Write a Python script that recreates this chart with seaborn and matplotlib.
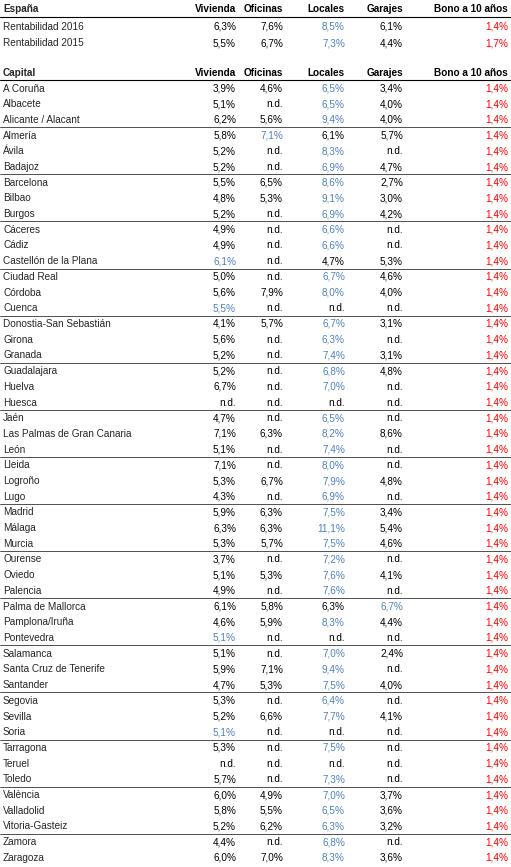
import matplotlib
matplotlib.use("Agg")
import matplotlib.pyplot as plt
import seaborn as sns

sns.set_theme(style="white")
plt.rcParams['font.family'] = ['Liberation Sans', 'DejaVu Sans']

columnas = ["Vivienda", "Oficinas", "Locales", "Garajes", "Bono a 10 años"]

espana = ["Rentabilidad 2016", "Rentabilidad 2015"]
espana_valores = [
    ["6,3%", "7,6%", "8,5%", "6,1%", "1,4%"],
    ["5,5%", "6,7%", "7,3%", "4,4%", "1,7%"],
]

capitales = [
    "A Coruña", "Albacete", "Alicante / Alacant", "Almería", "Ávila", "Badajoz",
    "Barcelona", "Bilbao", "Burgos", "Cáceres", "Cádiz", "Castellón de la Plana",
    "Ciudad Real", "Córdoba", "Cuenca", "Donostia-San Sebastián", "Girona", "Granada",
    "Guadalajara", "Huelva", "Huesca", "Jaén", "Las Palmas de Gran Canaria", "León",
    "Lleida", "Logroño", "Lugo", "Madrid", "Málaga", "Murcia",
    "Ourense", "Oviedo", "Palencia", "Palma de Mallorca", "Pamplona/Iruña", "Pontevedra",
    "Salamanca", "Santa Cruz de Tenerife", "Santander", "Segovia", "Sevilla", "Soria",
    "Tarragona", "Teruel", "Toledo", "València", "Valladolid", "Vitoria-Gasteiz",
    "Zamora", "Zaragoza",
]
vivienda = ["3,9%", "5,1%", "6,2%", "5,8%", "5,2%", "5,2%", "5,5%", "4,8%", "5,2%", "4,9%",
            "4,9%", "6,1%", "5,0%", "5,6%", "5,5%", "4,1%", "5,6%", "5,2%", "5,2%", "6,7%",
            "n.d.", "4,7%", "7,1%", "5,1%", "7,1%", "5,3%", "4,3%", "5,9%", "6,3%", "5,3%",
            "3,7%", "5,1%", "4,9%", "6,1%", "4,6%", "5,1%", "5,1%", "5,9%", "4,7%", "5,3%",
            "5,2%", "5,1%", "5,3%", "n.d.", "5,7%", "6,0%", "5,8%", "5,2%", "4,4%", "6,0%"]
oficinas = ["4,6%", "n.d.", "5,6%", "7,1%", "n.d.", "n.d.", "6,5%", "5,3%", "n.d.", "n.d.",
            "n.d.", "n.d.", "n.d.", "7,9%", "n.d.", "5,7%", "n.d.", "n.d.", "n.d.", "n.d.",
            "n.d.", "n.d.", "6,3%", "n.d.", "n.d.", "6,7%", "n.d.", "6,3%", "6,3%", "5,7%",
            "n.d.", "5,3%", "n.d.", "5,8%", "5,9%", "n.d.", "n.d.", "7,1%", "5,3%", "n.d.",
            "6,6%", "n.d.", "n.d.", "n.d.", "n.d.", "4,9%", "5,5%", "6,2%", "n.d.", "7,0%"]
locales = ["6,5%", "6,5%", "9,4%", "6,1%", "8,3%", "6,9%", "8,6%", "9,1%", "6,9%", "6,6%",
           "6,6%", "4,7%", "6,7%", "8,0%", "n.d.", "6,7%", "6,3%", "7,4%", "6,8%", "7,0%",
           "n.d.", "6,5%", "8,2%", "7,4%", "8,0%", "7,9%", "6,9%", "7,5%", "11,1%", "7,5%",
           "7,2%", "7,6%", "7,6%", "6,3%", "8,3%", "n.d.", "7,0%", "9,4%", "7,5%", "6,4%",
           "7,7%", "n.d.", "7,5%", "n.d.", "7,3%", "7,0%", "6,5%", "6,3%", "6,8%", "8,3%"]
garajes = ["3,4%", "4,0%", "4,0%", "5,7%", "n.d.", "4,7%", "2,7%", "3,0%", "4,2%", "n.d.",
           "n.d.", "5,3%", "4,6%", "4,0%", "n.d.", "3,1%", "n.d.", "3,1%", "4,8%", "n.d.",
           "n.d.", "n.d.", "8,6%", "n.d.", "n.d.", "4,8%", "n.d.", "3,4%", "5,4%", "4,6%",
           "n.d.", "4,1%", "n.d.", "6,7%", "4,4%", "n.d.", "2,4%", "n.d.", "4,0%", "n.d.",
           "4,1%", "n.d.", "n.d.", "n.d.", "n.d.", "3,7%", "3,6%", "3,2%", "n.d.", "3,6%"]
bono = ["1,4%"] * len(capitales)
# columna resaltada en azul (0=Vivienda ... 3=Garajes); por defecto Locales
destacado = {"Almería": 1, "Castellón de la Plana": 0, "Cuenca": 0, "Palma de Mallorca": 3,
             "Pontevedra": 0, "Soria": 0}

AZUL = "#4f81bd"
ROJO = "#ff0000"
x_cols = [236, 283, 345, 403, 508]
fs = 7.2

fig = plt.figure(figsize=(5.11, 8.67), dpi=100)
ax = fig.add_axes([0, 0, 1, 1])
ax.set_xlim(0, 511)
ax.set_ylim(867, 0)
ax.axis("off")

def fila(y, nombre, valores, azul, bold=False):
    w = "bold" if bold else "normal"
    yb = y + 3.5  # linea base
    ax.text(3, yb, nombre, fontsize=fs, fontweight=w, va="baseline", ha="left")
    for j, v in enumerate(valores):
        c = "black"
        if not bold:
            if j == 4:
                c = ROJO
            elif j == azul and v != "n.d.":
                c = AZUL
        ax.text(x_cols[j], yb, v, fontsize=fs, fontweight=w, va="baseline", ha="right", color=c)

# bloque España
fila(8, "España", columnas, None, bold=True)
ax.plot([0, 511], [17, 17], color="black", lw=0.8)
for i, (n, vals) in enumerate(zip(espana, espana_valores)):
    fila(26 + i * 17, n, vals, 2)

# bloque capitales
fila(72, "Capital", columnas, None, bold=True)
ax.plot([0, 511], [80, 80], color="black", lw=0.8)
paso = 15.7
for i, n in enumerate(capitales):
    y = 88 + i * paso
    vals = [vivienda[i], oficinas[i], locales[i], garajes[i], bono[i]]
    fila(y, n, vals, destacado.get(n, 2))
    if i % 3 == 2 and i < len(capitales) - 1:
        ax.plot([0, 511], [y + paso / 2, y + paso / 2], color="#333333", lw=0.6)

fig.savefig("out.png", dpi=100)
